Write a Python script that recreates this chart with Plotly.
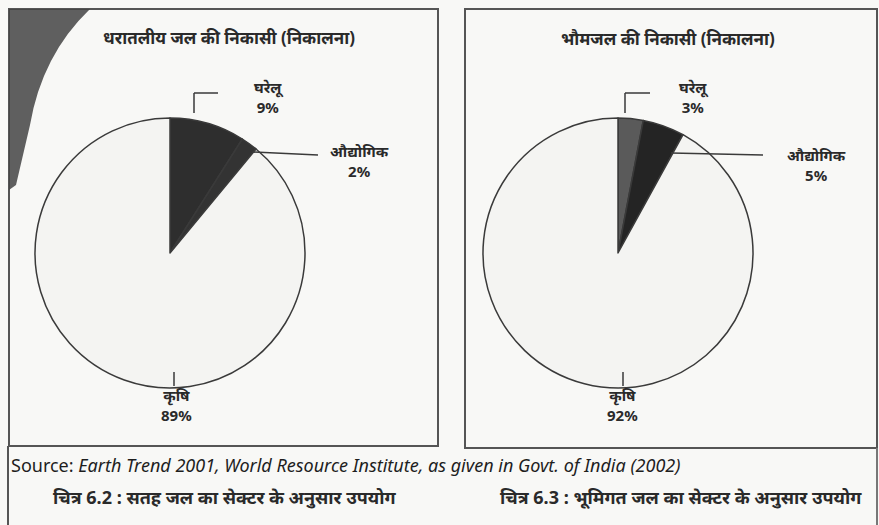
import plotly.graph_objects as go

W, H = 879, 525

sectors = ['घरेलू', 'औद्योगिक', 'कृषि']
surface_values = [9, 2, 89]
ground_values = [3, 5, 92]
surface_title = 'धरातलीय जल की निकासी (निकालना)'
ground_title = 'भौमजल की निकासी (निकालना)'
source_text = 'Source: <i>Earth Trend 2001, World Resource Institute, as given in Govt. of India (2002)</i>'
caption_left = 'चित्र 6.2 : सतह जल का सेक्टर के अनुसार उपयोग'
caption_right = 'चित्र 6.3 : भूमिगत जल का सेक्टर के अनुसार उपयोग'

surface_colors = ['#2e2e2e', '#333333', '#f4f4f2']
ground_colors = ['#5a5a5a', '#242424', '#f4f4f2']
ink = '#3a3a3a'
font_main = 'Noto Sans, DejaVu Serif, serif'


def px(x):
    return x / W


def py(y):
    return 1 - y / H


fig = go.Figure()

fig.add_trace(go.Pie(labels=sectors, values=surface_values, sort=False, direction='clockwise',
                     rotation=0, textinfo='none', hoverinfo='label+percent', showlegend=False,
                     marker=dict(colors=surface_colors, line=dict(color=ink, width=1.5)),
                     domain=dict(x=[px(35), px(305)], y=[py(388), py(118)])))

fig.add_trace(go.Pie(labels=sectors, values=ground_values, sort=False, direction='clockwise',
                     rotation=0, textinfo='none', hoverinfo='label+percent', showlegend=False,
                     marker=dict(colors=ground_colors, line=dict(color=ink, width=1.5)),
                     domain=dict(x=[px(483), px(753)], y=[py(388), py(118)])))


def line(x0, y0, x1, y1, width=1.5, color=ink):
    fig.add_shape(type='line', xref='paper', yref='paper',
                  x0=px(x0), y0=py(y0), x1=px(x1), y1=py(y1),
                  line=dict(color=color, width=width))


def rect(x0, y0, x1, y1, width=2, color='#555555'):
    fig.add_shape(type='rect', xref='paper', yref='paper',
                  x0=px(x0), y0=py(y0), x1=px(x1), y1=py(y1),
                  line=dict(color=color, width=width))


def text(x, y, s, size=12, color='#2a2a2a', xanchor='center'):
    fig.add_annotation(text=s, xref='paper', yref='paper', x=px(x), y=py(y),
                       showarrow=False, xanchor=xanchor, yanchor='middle',
                       font=dict(size=size, color=color, family=font_main))


# panel frames
rect(9, 9, 438, 446)
rect(465, 9, 877, 448)
line(8, 446, 8, 525, width=2, color='#555555')
line(877, 448, 877, 525, width=2, color='#777777')

# page shadow at top-left corner
fig.add_shape(type='path', xref='paper', yref='paper',
              path=f'M {px(9)},{py(9)} L {px(90)},{py(9)} Q {px(42)},{py(55)} {px(30)},{py(125)} '
                   f'L {px(16)},{py(185)} L {px(9)},{py(190)} Z',
              fillcolor='#444444', line=dict(width=0), opacity=0.85)

# leader lines, left pie
line(194, 113, 194, 93)
line(194, 93, 218, 93)
line(252, 152, 318, 155)
line(174, 372, 174, 386)

# leader lines, right pie
line(625, 113, 625, 93)
line(625, 93, 650, 93)
line(671, 153, 763, 155)
line(623, 372, 623, 386)

# titles
text(229, 37, '<b>' + surface_title + '</b>', size=17)
text(668, 38, '<b>' + ground_title + '</b>', size=17)


def slice_label(x, y, name, value):
    text(x, y, f'<b>{name}<br>{value}%</b>', size=15)


# slice labels, left
slice_label(268, 97, sectors[0], surface_values[0])
slice_label(359, 161, sectors[1], surface_values[1])
slice_label(176, 405, sectors[2], surface_values[2])

# slice labels, right
slice_label(693, 97, sectors[0], ground_values[0])
slice_label(816, 165, sectors[1], ground_values[1])
slice_label(622, 405, sectors[2], ground_values[2])

# source and figure captions
text(9, 465, source_text, size=18, color='#1e1e1e', xanchor='left')
text(225, 497, '<b>' + caption_left + '</b>', size=18, color='#2a2a2a')
text(681, 497, '<b>' + caption_right + '</b>', size=18, color='#2a2a2a')

fig.update_layout(
    width=W, height=H,
    margin=dict(l=0, r=0, t=0, b=0),
    paper_bgcolor='#f8f8f6',
    plot_bgcolor='#f8f8f6',
    font=dict(family=font_main, color='#2a2a2a'),
)

fig.write_html('out.html', config={'displayModeBar': False},
               post_script="document.body.style.margin='0';")
